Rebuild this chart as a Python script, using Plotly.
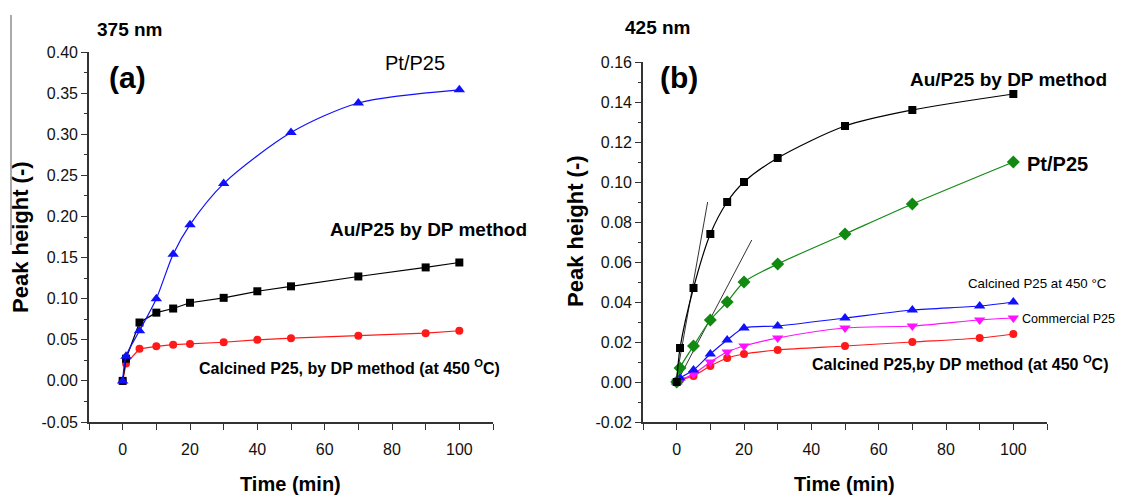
import plotly.graph_objects as go

W, H = 1126, 496
OFF = 8  # page body margin compensation

# ---------------- data: panel (a) 375 nm ----------------
time_a_pt = [0, 1, 5, 10, 15, 20, 30, 50, 70, 100]
pt_a = [0.0, 0.030, 0.061, 0.100, 0.154, 0.190, 0.240, 0.302, 0.338, 0.354]
time_a = [0, 1, 5, 10, 15, 20, 30, 40, 50, 70, 90, 100]
au_a = [0.0, 0.027, 0.071, 0.083, 0.088, 0.095, 0.101, 0.109, 0.115, 0.127, 0.138, 0.144]
cal_a = [0.0, 0.021, 0.039, 0.042, 0.044, 0.045, 0.047, 0.050, 0.052, 0.055, 0.058, 0.061]

# ---------------- data: panel (b) 425 nm ----------------
time_b1 = [0, 1, 5, 10, 15, 20, 30, 50, 70, 100]
au_b = [0.0, 0.017, 0.047, 0.074, 0.090, 0.100, 0.112, 0.128, 0.136, 0.144]
pt_b = [0.0, 0.007, 0.018, 0.031, 0.040, 0.050, 0.059, 0.074, 0.089, 0.110]
time_b2 = [0, 1, 5, 10, 15, 20, 30, 50, 70, 90, 100]
cal450_b = [0.0, 0.002, 0.006, 0.014, 0.021, 0.027, 0.028, 0.032, 0.036, 0.038, 0.040]
comm_b = [0.0, 0.001, 0.004, 0.010, 0.015, 0.018, 0.022, 0.027, 0.028, 0.031, 0.032]
caldp_b = [0.0, 0.001, 0.003, 0.008, 0.012, 0.014, 0.016, 0.018, 0.020, 0.022, 0.024]
# initial-slope tangent lines
tan1_x = [-0.5, 9.2]
tan1_y = [-0.002, 0.090]
tan2_x = [-0.5, 22.3]
tan2_y = [-0.002, 0.071]

xticks = [0, 20, 40, 60, 80, 100]
yticks_a = [-0.05, 0.00, 0.05, 0.10, 0.15, 0.20, 0.25, 0.30, 0.35, 0.40]
yticks_b = [-0.02, 0.00, 0.02, 0.04, 0.06, 0.08, 0.10, 0.12, 0.14, 0.16]

BLUE = "#1010ff"
RED = "#ff1a1a"
BLACK = "#000000"
GREEN = "#128a12"
MAGENTA = "#ff10ff"


def px(x):
    return (x - OFF) / W


def py(y):
    return 1 - (y - OFF) / H


fig = go.Figure()


def add(x, y, color, symbol, size, xa, ya, shape="linear"):
    fig.add_trace(go.Scatter(
        x=x, y=y, mode="lines+markers", xaxis=xa, yaxis=ya,
        line=dict(color=color, width=1.2, shape=shape, smoothing=0.8),
        marker=dict(symbol=symbol, size=size, color=color, line=dict(width=0)),
        showlegend=False, hoverinfo="x+y"))


# panel (a)
add(time_a, cal_a, RED, "circle", 8, "x", "y")
add(time_a, au_a, BLACK, "square", 8, "x", "y")
add(time_a_pt, pt_a, BLUE, "triangle-up", 10, "x", "y", shape="spline")

# panel (b)
for tx, ty in [(tan1_x, tan1_y), (tan2_x, tan2_y)]:
    fig.add_trace(go.Scatter(x=tx, y=ty, mode="lines", xaxis="x2", yaxis="y2",
                             line=dict(color="#333333", width=1),
                             showlegend=False, hoverinfo="skip"))
add(time_b2, caldp_b, RED, "circle", 8, "x2", "y2", shape="spline")
add(time_b2, comm_b, MAGENTA, "triangle-down", 10, "x2", "y2", shape="spline")
add(time_b2, cal450_b, BLUE, "triangle-up", 10, "x2", "y2", shape="spline")
add(time_b1, pt_b, GREEN, "diamond", 10, "x2", "y2", shape="spline")
add(time_b1, au_b, BLACK, "square", 8, "x2", "y2", shape="spline")

tickfont = dict(family="Arial, Liberation Sans, sans-serif", size=16, color="#111111")
axis_common = dict(showgrid=False, zeroline=False, showline=True, linecolor="#333333",
                   linewidth=1.6, ticks="outside", ticklen=6, tickwidth=1.2,
                   tickcolor="#333333", tickfont=tickfont, mirror=False, automargin=False)

fig.update_layout(
    template="none",
    autosize=False,
    width=W, height=H, margin=dict(l=0, r=0, t=0, b=0, pad=0, autoexpand=False),
    paper_bgcolor="white", plot_bgcolor="white",
    xaxis=dict(domain=[px(89), px(493)], range=[-10, 110], tickvals=xticks,
               ticktext=[str(v) for v in xticks], anchor="y",
               minor=dict(dtick=10, tick0=0, ticks="outside", ticklen=6, tickcolor="#333333"),
               ticklabelstandoff=6, **axis_common),
    yaxis=dict(domain=[py(422), py(52)], range=[-0.05, 0.40], tickvals=yticks_a,
               ticktext=[f"{v:.2f}" for v in yticks_a], anchor="x",
               minor=dict(dtick=0.025, tick0=0, ticks="outside", ticklen=3, tickcolor="#333333"),
               **axis_common),
    xaxis2=dict(domain=[px(643), px(1047)], range=[-10, 110], tickvals=xticks,
                ticktext=[str(v) for v in xticks], anchor="y2",
                minor=dict(dtick=10, tick0=0, ticks="outside", ticklen=6, tickcolor="#333333"),
                ticklabelstandoff=6, **axis_common),
    yaxis2=dict(domain=[py(422), py(62)], range=[-0.02, 0.16], tickvals=yticks_b,
                ticktext=[f"{v:.2f}" for v in yticks_b], anchor="x2",
                minor=dict(dtick=0.01, tick0=0, ticks="outside", ticklen=3, tickcolor="#333333"),
                **axis_common),
)

# (text, x_px, y_px, size, bold, xanchor, angle)
annots = [
    # panel (a)
    ("375 nm", 129, 30, 19, True, "center", 0),
    ("(a)", 127, 77, 30, True, "center", 0),
    ("Pt/P25", 415, 63, 20, False, "center", 0),
    ("Au/P25 by DP method", 428, 229, 19, True, "center", 0),
    ("Calcined P25, by DP method (at 450 <sup>O</sup>C)", 349, 367, 16, True, "center", 0),
    ("Peak height (-)", 20, 237, 22, True, "center", -90),
    ("Time (min)", 291, 484, 20, True, "center", 0),
    # panel (b)
    ("425 nm", 657, 28, 19, True, "center", 0),
    ("(b)", 679, 77, 30, True, "center", 0),
    ("Au/P25 by DP method", 1008, 79, 19, True, "center", 0),
    ("Pt/P25", 1057, 164, 20, True, "center", 0),
    ("Calcined P25 at 450 °C", 1037, 283, 13.3, False, "center", 0),
    ("Commercial P25", 1117, 319, 12.6, False, "right", 0),
    ("Calcined P25,by DP method (at 450 <sup>O</sup>C)", 960, 363, 16, True, "center", 0),
    ("Peak height (-)", 575, 231, 22, True, "center", -90),
    ("Time (min)", 844, 484, 20, True, "center", 0),
]

for text, x, y, size, bold, xanchor, angle in annots:
    fig.add_annotation(
        text=f"<b>{text}</b>" if bold else text,
        x=px(x), y=py(y), xref="paper", yref="paper",
        xanchor=xanchor, yanchor="middle", showarrow=False, textangle=angle,
        font=dict(family="Arial, Liberation Sans, sans-serif", size=size, color="#000000"))

# thin vertical edge line at the far left (crop edge of original figure)
fig.add_shape(type="line", xref="paper", yref="paper",
              x0=px(11), x1=px(11), y0=py(15), y1=py(245),
              line=dict(color="#555555", width=1))

fig.write_html("out.html")
